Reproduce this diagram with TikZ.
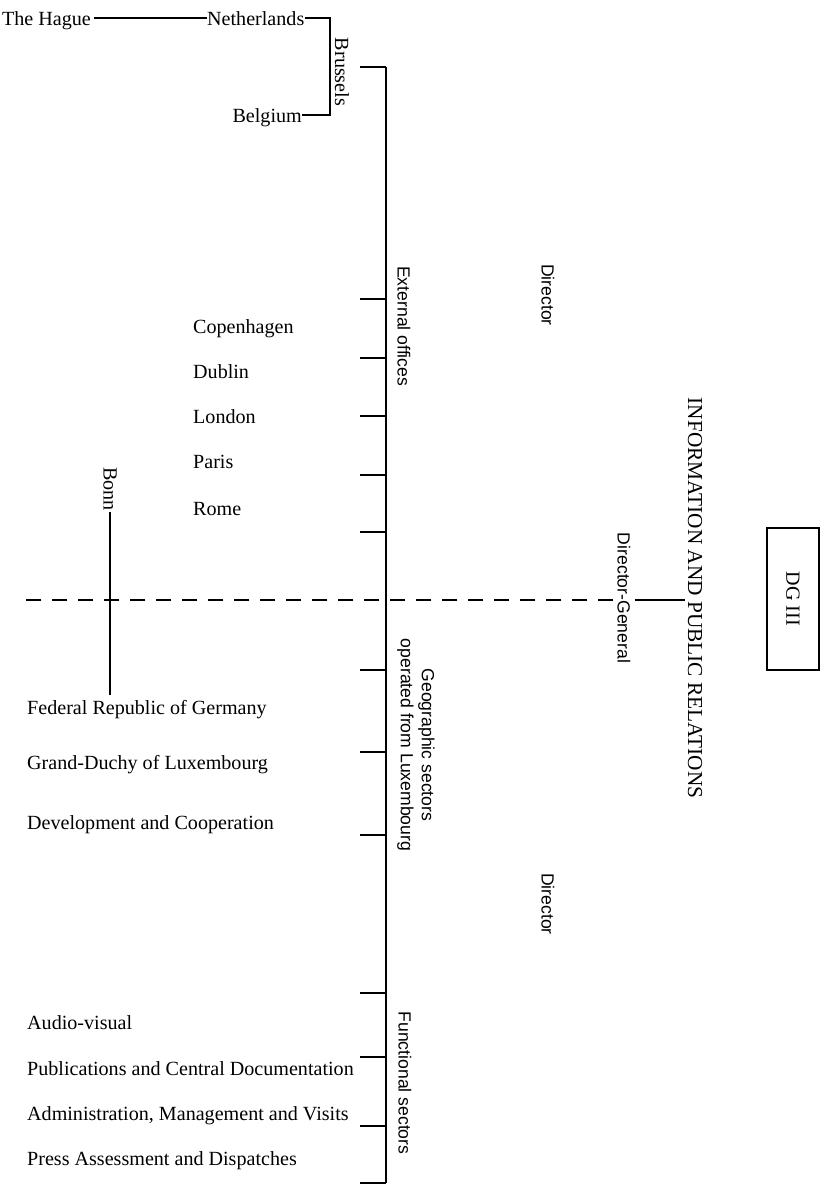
\documentclass[tikz,border=0pt]{standalone}
\usepackage{fontspec}
\setmainfont{Liberation Serif}
\setsansfont{Liberation Sans}
\begin{document}
\begin{tikzpicture}[x=1pt,y=-1pt,
  lbl/.style={font=\fontsize{20.1}{24}\selectfont, inner sep=0pt, text height=14pt, text depth=0pt},
  vsans/.style={font=\sffamily\fontsize{17.6}{21}\selectfont, rotate=-90, inner sep=1pt},
  vser/.style={font=\fontsize{20.1}{24}\selectfont, rotate=-90, inner sep=1pt},
  conn/.style={line width=2.3pt},
  spineline/.style={line width=2pt},
  dashconn/.style={line width=2.8pt, dash pattern=on 15pt off 11pt}]
\useasboundingbox (0,0) rectangle (821,1189);

% ---- top: Netherlands / Belgium / Brussels
\node[lbl, anchor=base east] (hague) at (91,25) {The Hague};
\node[lbl, anchor=base west] (neth) at (207,25) {Netherlands};
\node[lbl, anchor=base east] (belg) at (302,122) {Belgium};
\coordinate (brk) at (330,0);
\draw[conn, shorten <=3pt] (hague.east) -- (neth.west);
\draw[conn] (neth.east) -- (neth.east -| brk) |- (belg.east);
\node[vser] (brus) at (342,72) {Brussels};

% ---- main spine
\coordinate (spTop) at (386,67);
\coordinate (spBot) at (386,1183);
\coordinate (btick) at (360,67);
\draw[conn] (btick) -- (spTop);
\draw[spineline] (spTop) -- (spBot);
\foreach \yy [count=\i] in {299,358,416,475,532,670,752,835,993,1057,1126,1183} {
  \coordinate (tk\i) at (360,\yy);
  \draw[conn] (tk\i) -- (tk\i -| spTop);
}

% ---- group labels
\node[vsans, anchor=west] (ext) at (404,265) {External offices};
\node[vsans, align=center] (geo) at (416,745) {Geographic sectors\\operated from Luxembourg};
\node[vsans] (func) at (405,1083) {Functional sectors};
\node[vsans, anchor=west] (dir1) at (548,263) {Director};
\node[vsans, anchor=west] (dir2) at (548,872) {Director};

% ---- external offices
\node[lbl, anchor=base west] (cop) at (193,333) {Copenhagen};
\node[lbl, anchor=base west] (dub) at (193,378) {Dublin};
\node[lbl, anchor=base west] (lon) at (193,423) {London};
\node[lbl, anchor=base west] (par) at (193,468) {Paris};
\node[lbl, anchor=base west] (rom) at (193,515) {Rome};

% ---- Bonn
\node[vser, anchor=west] (bonn) at (110,466) {Bonn};
\coordinate (bonnEnd) at (110,695);
\draw[conn] (bonn.east) -- (bonnEnd);

% ---- geographic sectors
\node[lbl, anchor=base west] (frg) at (27,714) {Federal Republic of Germany};
\node[lbl, anchor=base west] (lux) at (27,769) {Grand-Duchy of Luxembourg};
\node[lbl, anchor=base west] (dev) at (27,829) {Development and Cooperation};

% ---- functional sectors
\node[lbl, anchor=base west] (av) at (27,1029) {Audio-visual};
\node[lbl, anchor=base west] (pub) at (27,1075) {Publications and Central Documentation};
\node[lbl, anchor=base west] (adm) at (27,1120) {Administration, Management and Visits};
\node[lbl, anchor=base west] (press) at (27,1165) {Press Assessment and Dispatches};

% ---- Director-General, title, DG III
\node[vsans] (dg) at (624,598) {Director-General};
\node[vser, font=\fontsize{21.3}{25}\selectfont] (info) at (695,598) {INFORMATION AND PUBLIC RELATIONS};
\node[draw, line width=2pt, rotate=-90, minimum width=142pt, minimum height=52pt,
      font=\fontsize{20.1}{24}\selectfont] (dgiii) at (793,599) {DG III};
\coordinate (dashL) at (25,600);
\draw[dashconn, shorten <=3pt] (dg.south |- dashL) -- (dashL);
\draw[conn, shorten <=3pt, shorten >=2pt] (dg.north |- dashL) -- (info.south |- dashL);
\end{tikzpicture}
\end{document}
